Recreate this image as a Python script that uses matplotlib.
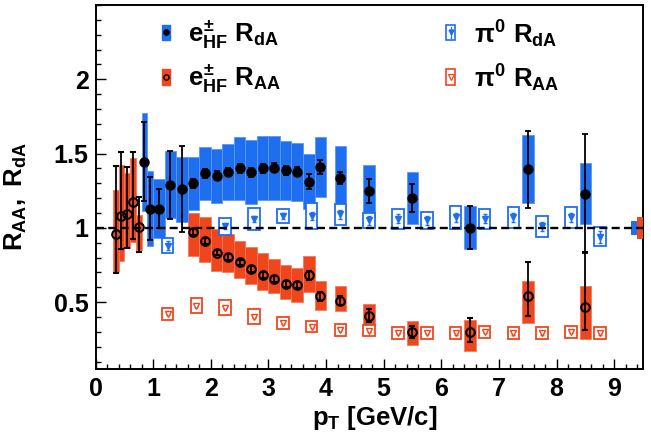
import numpy as np
import matplotlib
matplotlib.use('Agg')
import matplotlib.pyplot as plt
from matplotlib.patches import Rectangle
from matplotlib.ticker import MultipleLocator

# ---------------- data ----------------
# heavy-flavour electrons, d+Au
ehf_dA_pt   = [0.85, 0.95, 1.1, 1.3, 1.5, 1.7, 1.9, 2.1, 2.3, 2.5, 2.7, 2.9, 3.1, 3.3, 3.5, 3.7, 3.9, 4.25, 4.75, 5.5, 6.5, 7.5, 8.5]
ehf_dA_val  = [1.445, 1.13, 1.13, 1.29, 1.26, 1.30, 1.367, 1.35, 1.376, 1.40, 1.374, 1.40, 1.405, 1.387, 1.378, 1.31, 1.41, 1.334, 1.248, 1.20, 1.00, 1.394, 1.23]
ehf_dA_stat = [0.265, 0.21, 0.13, 0.23, 0.29, 0.03, 0.03, 0.03, 0.03, 0.03, 0.03, 0.03, 0.03, 0.03, 0.03, 0.05, 0.05, 0.04, 0.08, 0.095, 0.145, 0.26, 0.40]
ehf_dA_sys  = [0.33, 0.25, 0.20, 0.225, 0.22, 0.18, 0.18, 0.18, 0.19, 0.21, 0.215, 0.215, 0.215, 0.20, 0.195, 0.185, 0.20, 0.215, 0.175, 0.175, 0.145, 0.23, 0.205]

# heavy-flavour electrons, Au+Au
ehf_AA_pt      = [0.35, 0.45, 0.55, 0.65, 0.75, 1.7, 1.9, 2.1, 2.3, 2.5, 2.7, 2.9, 3.1, 3.3, 3.5, 3.7, 3.9, 4.25, 4.75, 5.5, 6.5, 7.5, 8.5]
ehf_AA_val     = [0.958, 1.083, 1.094, 1.172, 1.005, 0.97, 0.913, 0.834, 0.807, 0.767, 0.723, 0.685, 0.656, 0.624, 0.613, 0.68, 0.539, 0.51, 0.41, 0.30, 0.30, 0.54, 0.47]
ehf_AA_stat_dn = [0.26, 0.225, 0.228, 0.246, 0.165, 0.02, 0.02, 0.02, 0.02, 0.02, 0.02, 0.02, 0.02, 0.02, 0.02, 0.03, 0.03, 0.03, 0.045, 0.04, 0.07, 0.13, 0.16]
ehf_AA_stat_up = [0.46, 0.427, 0.316, 0.338, 0.205, 0.02, 0.02, 0.02, 0.02, 0.02, 0.02, 0.02, 0.02, 0.02, 0.02, 0.03, 0.03, 0.03, 0.045, 0.04, 0.09, 0.23, 0.37]
ehf_AA_sys_lo  = [0.70, 0.774, 0.866, 0.908, 0.852, 0.81, 0.77, 0.71, 0.70, 0.66, 0.62, 0.58, 0.56, 0.52, 0.50, 0.57, 0.45, 0.44, 0.34, 0.21, 0.17, 0.36, 0.25]
ehf_AA_sys_hi  = [1.255, 1.42, 1.367, 1.468, 1.087, 1.10, 1.07, 0.99, 0.96, 0.91, 0.87, 0.83, 0.79, 0.75, 0.73, 0.81, 0.64, 0.61, 0.49, 0.37, 0.38, 0.64, 0.61]

# pi0, d+Au
pi0_dA_pt   = [1.25, 2.25, 2.75, 3.25, 3.75, 4.25, 4.75, 5.25, 5.75, 6.25, 6.75, 7.25, 7.75, 8.25, 8.75]
pi0_dA_val  = [0.88, 1.01, 1.06, 1.08, 1.08, 1.09, 1.05, 1.06, 1.05, 1.07, 1.06, 1.07, 1.01, 1.07, 0.94]
pi0_dA_stat = [0.03, 0.02, 0.02, 0.02, 0.03, 0.03, 0.03, 0.03, 0.03, 0.03, 0.03, 0.03, 0.03, 0.03, 0.04]
pi0_dA_sys  = [0.05, 0.055, 0.075, 0.05, 0.09, 0.07, 0.05, 0.065, 0.055, 0.075, 0.07, 0.07, 0.07, 0.07, 0.065]

# pi0, Au+Au
pi0_AA_pt   = [1.25, 1.75, 2.25, 2.75, 3.25, 3.75, 4.25, 4.75, 5.25, 5.75, 6.25, 6.75, 7.25, 7.75, 8.25, 8.75]
pi0_AA_val  = [0.423, 0.477, 0.463, 0.403, 0.362, 0.336, 0.315, 0.309, 0.295, 0.295, 0.29, 0.30, 0.29, 0.29, 0.30, 0.29]
pi0_AA_stat = [0.01] * 16
pi0_AA_sys  = [0.04, 0.05, 0.05, 0.05, 0.04, 0.04, 0.04, 0.04, 0.04, 0.04, 0.04, 0.04, 0.04, 0.04, 0.04, 0.04]

# global normalisation uncertainties (half heights), drawn at y = 1
norm_dA = 0.045
norm_AA = 0.073

x_ticks = [0, 1, 2, 3, 4, 5, 6, 7, 8, 9]
y_ticks = [0.5, 1.0, 1.5, 2.0]
y_tick_labels = ['0.5', '1', '1.5', '2']

# ---------------- style ----------------
BLUE = '#1E6EF0'
BLUE_EDGE = '#5C98F4'
RED = '#F0461E'
RED_EDGE = '#F47A5C'

plt.rcParams.update({
    'font.family': ['Liberation Sans', 'DejaVu Sans'],
    'font.weight': 'bold',
    'mathtext.fontset': 'custom',
    'mathtext.rm': 'Liberation Sans:bold',
    'mathtext.it': 'Liberation Sans:bold',
    'mathtext.bf': 'Liberation Sans:bold',
    'mathtext.sf': 'Liberation Sans:bold',
})

W, H = 651, 441
fig = plt.figure(figsize=(W / 100, H / 100), dpi=100)
ax = fig.add_axes([95.5 / W, 72 / H, (643 - 95.5) / W, (369 - 5) / H])
ax.set_xlim(0, 9.5)
ax.set_ylim(0.05, 2.5)

def band_width(p):
    return 0.1 if p < 1.0 else 0.2

# e_HF R_AA systematic bands
lo = np.array(ehf_AA_sys_lo)
hi = np.array(ehf_AA_sys_hi)
ax.bar(ehf_AA_pt, hi - lo, bottom=lo, width=[band_width(p) for p in ehf_AA_pt],
       color=RED, edgecolor=RED_EDGE, linewidth=0.6, zorder=1)

# e_HF R_dA systematic bands
v = np.array(ehf_dA_val)
s = np.array(ehf_dA_sys)
ax.bar(ehf_dA_pt, 2 * s, bottom=v - s, width=[band_width(p) for p in ehf_dA_pt],
       color=BLUE, edgecolor=BLUE_EDGE, linewidth=0.6, zorder=3)

# pi0 boxes
for pts, vals, sys, col in [(pi0_dA_pt, pi0_dA_val, pi0_dA_sys, BLUE),
                            (pi0_AA_pt, pi0_AA_val, pi0_AA_sys, RED)]:
    vv = np.array(vals); ss = np.array(sys)
    ax.bar(pts, 2 * ss, bottom=vv - ss, width=0.2, facecolor='white',
           edgecolor=col, linewidth=1.3, zorder=4)

ax.errorbar(pi0_dA_pt, pi0_dA_val, yerr=pi0_dA_stat, fmt='v', color=BLUE,
            ms=4.2, mfc=BLUE, mec=BLUE, elinewidth=1.0, capsize=1.6, zorder=5)
ax.errorbar(pi0_AA_pt, pi0_AA_val, yerr=pi0_AA_stat, fmt='v', color=RED,
            ms=4.6, mfc='white', mec=RED, mew=1.0, elinewidth=1.0, capsize=1.6, zorder=5)

# normalisation boxes at right edge
ax.bar([9.35], [2 * norm_dA], bottom=[1 - norm_dA], width=0.1, color=BLUE,
       edgecolor='none', zorder=3, clip_on=False)
ax.bar([9.45], [2 * norm_AA], bottom=[1 - norm_AA], width=0.1, color=RED,
       edgecolor='none', zorder=3, clip_on=False)

# unity line
ax.axhline(1.0, color='black', lw=1.7, ls=(0, (3.4, 1.8)), zorder=6)

# e_HF points
ax.errorbar(ehf_AA_pt, ehf_AA_val, yerr=[ehf_AA_stat_dn, ehf_AA_stat_up], fmt='o',
            color='black', ms=6.2, mfc='none', mec='black', mew=1.5,
            elinewidth=1.3, capsize=2, capthick=1.3, zorder=7)
ax.errorbar(ehf_dA_pt, ehf_dA_val, yerr=ehf_dA_stat, fmt='o',
            color='black', ms=6.5, mfc='black', mec='black',
            elinewidth=1.3, capsize=2, capthick=1.3, zorder=8)

# ---------------- legend (manual, ROOT style) ----------------
iw, ih = 0.14, 0.107
rows = [2.315, 2.017]
xl, xr = 1.22, 6.16
ax.add_patch(Rectangle((xl - iw / 2, rows[0] - ih / 2), iw, ih, color=BLUE, zorder=9))
ax.plot([xl], [rows[0]], 'o', color='black', ms=3.8, zorder=10)
ax.add_patch(Rectangle((xl - iw / 2, rows[1] - ih / 2), iw, ih, color=RED, zorder=9))
ax.plot([xl], [rows[1]], 'o', mfc='none', mec='black', mew=1.0, ms=3.8, zorder=10)
ax.add_patch(Rectangle((xr - iw / 2, rows[0] - ih / 2), iw, ih, facecolor='white',
                       edgecolor=BLUE, lw=1.2, zorder=9))
ax.plot([xr], [rows[0]], 'v', color=BLUE, ms=3.5, zorder=10)
ax.plot([xr, xr], [rows[0] - 0.04, rows[0] + 0.04], color=BLUE, lw=0.9, zorder=10)
ax.add_patch(Rectangle((xr - iw / 2, rows[1] - ih / 2), iw, ih, facecolor='white',
                       edgecolor=RED, lw=1.2, zorder=9))
ax.plot([xr], [rows[1]], 'v', mfc='white', mec=RED, mew=0.9, ms=4, zorder=10)

fs_leg = 18.5
ax.text(1.60, rows[0] - 0.01, r'$e^{\pm}_{HF}\ R_{dA}$', fontsize=fs_leg, va='center', ha='left', zorder=11)
ax.text(1.60, rows[1] - 0.01, r'$e^{\pm}_{HF}\ R_{AA}$', fontsize=fs_leg, va='center', ha='left', zorder=11)
ax.text(6.56, rows[0] - 0.01, r'$\pi^{0}\ R_{dA}$', fontsize=fs_leg, va='center', ha='left', zorder=11)
ax.text(6.56, rows[1] - 0.01, r'$\pi^{0}\ R_{AA}$', fontsize=fs_leg, va='center', ha='left', zorder=11)

# ---------------- axes ----------------
ax.set_xticks(x_ticks)
ax.set_xticklabels([str(t) for t in x_ticks])
ax.xaxis.set_minor_locator(MultipleLocator(0.2))
ax.set_yticks(y_ticks)
ax.set_yticklabels(y_tick_labels)
ax.yaxis.set_minor_locator(MultipleLocator(0.1))
ax.tick_params(which='both', direction='in', top=False, right=False, width=1.0,
               labelsize=18)
ax.tick_params(which='major', length=7.5)
ax.tick_params(which='minor', length=3.8)
ax.tick_params(axis='x', pad=6)
ax.tick_params(axis='y', pad=5)
for sp in ax.spines.values():
    sp.set_linewidth(1.4)

fig.text(375 / W, 1 - 418 / H, r'$p_{T}$ [GeV/c]', fontsize=18.5, ha='center', va='center')
fig.text(16 / W, 1 - 197 / H, r'$R_{AA},\ R_{dA}$', fontsize=18.5, ha='center', va='center',
         rotation=90)

fig.savefig('out.png', dpi=100)
